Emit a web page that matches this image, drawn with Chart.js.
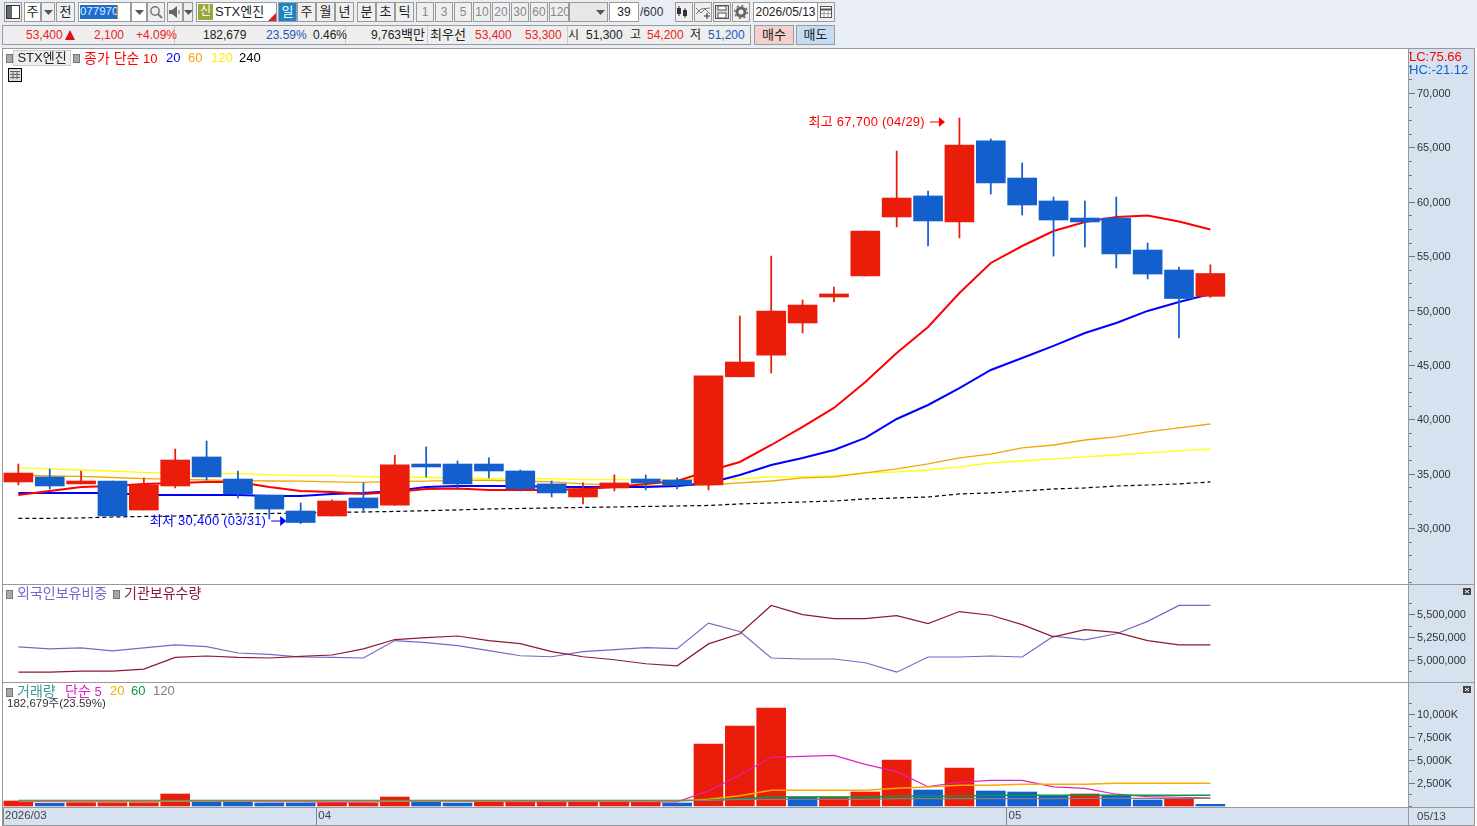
<!DOCTYPE html>
<html lang="ko">
<head>
<meta charset="utf-8">
<title>STX엔진 일봉</title>
<script src="https://cdn.jsdelivr.net/npm/chart.js@4/dist/chart.umd.min.js"></script>
<style>
html, body { margin: 0; padding: 0; width: 1477px; height: 826px; overflow: hidden; background: #fff; }
body, .t { font-family: "Liberation Sans", "Noto Sans CJK KR", sans-serif; }
#stage { position: relative; width: 1477px; height: 826px; }
#topbar { position: absolute; left: 0; top: 0; width: 1477px; height: 48px; background: #e9eef6; }
.t { position: absolute; white-space: nowrap; font-size: 12px; color: #222; z-index: 5; }
.t span { font-size: 14px; }
.b { position: absolute; box-sizing: border-box; border: 1px solid #9a9a9a; background: #efefef; text-align: center; font-size: 13px; color: #222; white-space: nowrap; }
.l { position: absolute; background: #999; z-index: 4; }
.s { position: absolute; background: #d6e2f0; }
.dot { position: absolute; width: 5px; height: 7px; background: #a8a8a8; border: 1px solid #777; z-index: 5; }
canvas { position: absolute; left: 3px; z-index: 2; }
</style>
</head>
<body>
<div id="stage">
	<div id="topbar"></div>
	<div class="s" style="left:1409px;top:49px;width:65px;height:758px"></div>
	<div class="s" style="left:3px;top:808px;width:1471px;height:17px"></div>
	<canvas id="price" width="1471" height="536" style="top:49px"></canvas>
	<canvas id="holding" width="1471" height="98" style="top:585px"></canvas>
	<canvas id="volume" width="1471" height="143" style="top:683px"></canvas>
</div>
<script>
// trading days shown on the daily chart
const days = ['03/18','03/19','03/20','03/23','03/24','03/25','03/26','03/27','03/30','03/31',
	'04/01','04/02','04/03','04/06','04/07','04/08','04/09','04/10','04/13','04/14',
	'04/15','04/16','04/17','04/20','04/21','04/22','04/23','04/24','04/27','04/28',
	'04/29','04/30','05/04','05/06','05/07','05/08','05/11','05/12','05/13'];

const opens = [34230,34690,34050,34320,31650,33860,36530,34500,33030,31560,
	31100,32760,32100,35880,35880,35880,35240,34050,32850,33680,
	34500,34410,33950,43900,45900,48850,51240,53170,58600,60530,
	58140,65590,62180,60070,58500,58500,55560,53720,51300];
const highs = [35880,35420,35240,34320,34600,37260,38000,35240,33030,32300,
	32580,34140,36700,37450,36160,36440,35330,34320,34140,34880,
	34880,34600,43900,49500,55000,50960,52160,57310,64660,60990,
	67700,65770,63560,60430,60070,60430,56200,54000,54200];
const lows = [33950,33590,34050,31100,31650,33680,34410,32760,30830,30400,
	31100,31470,32100,34690,33590,34600,33400,32850,32210,33400,
	33500,33590,33500,43900,44250,47930,50780,53170,57680,55930,
	56670,60710,58780,55000,55840,53910,52900,47470,51200];
const closes = [35050,33860,34320,31100,33950,36250,34690,33130,31740,30500,
	32480,31840,35800,35610,34050,35240,33590,33220,33590,34140,
	34140,33950,43980,45260,49950,50500,51520,57310,60340,58230,
	65220,61720,59700,58320,58140,55190,53350,51100,53400];

const ma10 = [33040,33400,33770,33860,34050,34140,34230,34230,33770,33400,
	33310,33130,33310,33590,33630,33500,33500,33500,33590,33770,
	34050,34320,35240,36070,37630,39290,41040,43430,46090,48480,
	51610,54370,55930,57310,58140,58600,58740,58190,57450];
const ma20 = [33220,33220,33220,33220,33040,33040,33040,33040,32940,32940,
	33130,33220,33400,33770,33860,33860,33860,33770,33770,33770,
	33770,33860,34140,34870,35790,36440,37170,38280,40020,41310,
	42870,44530,45630,46740,47930,48850,49960,50780,51520];
const ma60 = [34870,34780,34740,34640,34530,34460,34410,34350,34320,34300,
	34230,34200,34280,34300,34370,34390,34320,34230,34050,33950,
	33860,33910,33950,34140,34320,34600,34690,35060,35430,35890,
	36440,36800,37360,37630,38090,38370,38830,39200,39560];
const ma120 = [35520,35430,35330,35240,35090,35090,35000,35000,34900,34810,
	34810,34720,34690,34640,34600,34530,34530,34530,34440,34440,
	34440,34410,34510,34510,34690,34690,34780,35060,35150,35330,
	35610,35980,36160,36350,36530,36710,36900,37080,37270];
const ma240 = [30890,30890,30920,31010,31060,31100,31200,31290,31330,31380,
	31430,31470,31520,31590,31660,31750,31790,31840,31890,31930,
	31980,32020,32070,32210,32300,32390,32480,32670,32760,32850,
	33130,33220,33400,33590,33680,33860,33950,34050,34230];

const foreignHolding = [5141000,5119000,5130000,5097000,5130000,5163000,5144000,5074000,5059000,5030000,
	5026000,5019000,5211000,5189000,5156000,5100000,5044000,5033000,5089000,5111000,
	5133000,5122000,5403000,5311000,5019000,5008000,5008000,4967000,4863000,5030000,
	5030000,5041000,5030000,5259000,5219000,5286000,5422000,5597000,5597000];
const institutionHolding = [4863000,4863000,4874000,4874000,4897000,5026000,5041000,5026000,5019000,5037000,
	5052000,5119000,5222000,5244000,5261000,5211000,5178000,5089000,5033000,5000000,
	4956000,4933000,5174000,5286000,5597000,5497000,5452000,5452000,5486000,5397000,
	5530000,5489000,5386000,5252000,5330000,5300000,5211000,5163000,5163000];

// volume in thousands of shares, up = compared with the previous session
const volumes = [543,293,359,359,359,1304,543,435,326,326,
	359,326,978,543,326,435,543,543,435,435,
	435,326,6739,8696,10652,978,978,1522,5000,1739,
	4130,1630,1522,1163,1304,1163,652,761,183];
const volumeUp = [1,0,1,1,1,1,0,0,0,0,
	1,1,1,0,0,1,1,1,1,1,
	1,0,1,1,1,0,1,1,1,0,
	1,0,0,0,1,0,0,1,0];
const volMa5 = [470,470,470,490,490,540,540,540,470,470,
	430,430,500,520,540,500,450,450,470,470,
	440,450,1630,3370,5290,5400,5510,4530,3730,2100,
	2580,2790,2790,2070,1920,1280,1010,950,850];
const volMa20 = [543,543,543,543,543,543,543,543,543,543,
	543,543,543,543,543,543,543,543,543,543,
	543,543,728,1120,1707,1707,1707,1707,1924,2065,
	2250,2250,2359,2359,2359,2467,2467,2467,2467];
const volMa60 = [600,600,600,600,600,600,600,600,600,600,
	600,600,600,600,600,600,600,600,600,600,
	600,600,620,793,978,978,978,978,1054,1054,
	1054,1163,1163,1163,1163,1163,1163,1163,1163];
const volMa120 = [600,600,600,600,600,600,600,600,600,600,
	600,600,600,600,600,600,600,600,600,600,
	600,600,600,728,728,728,728,728,793,793,
	793,793,793,793,837,837,837,837,837];

const priceTicks = [70000,65000,60000,55000,50000,45000,40000,35000,30000];
const holdingTicks = [5500000,5250000,5000000];
const volumeTicks = [10000,7500,5000,2500];

const RED = '#ea1c0a', BLUE = '#135fcd';
const FONT = '"Liberation Sans", "Noto Sans CJK KR", sans-serif';
const X_MIN = -0.49, X_MAX = 44.3;

const pts = arr => arr.map((v, i) => ({x: i, y: v}));
const ladder = (from, to, step) => {
	const out = [];
	for (let v = from; v >= to; v -= step) out.push(v);
	return out;
};
const line = (label, data, color, width, order, extra) => Object.assign({
	type: 'line', label, data: pts(data), borderColor: color, borderWidth: width,
	pointRadius: 0, tension: 0, order, fill: false
}, extra || {});
// the plot has to fill its canvas exactly, so drop the room kept for half a label
const noPadding = s => { s.paddingTop = s.paddingBottom = s.paddingLeft = s.paddingRight = 0; };

// short dashes on the right axis, longer where the tick has a label
const axisDashes = {
	id: 'axisDashes',
	afterDraw(chart) {
		const y = chart.scales.y, ctx = chart.ctx, right = chart.chartArea.right;
		ctx.save();
		ctx.fillStyle = '#777';
		y.ticks.forEach(t => {
			const py = Math.round(y.getPixelForValue(t.value));
			ctx.fillRect(right + 1, py, t.label ? 6 : 3, 1);
		});
		ctx.restore();
	}
};

// highest / lowest price captions with their arrows
const extremes = {
	id: 'extremes',
	afterDatasetsDraw(chart) {
		const x = chart.scales.x, y = chart.scales.y, ctx = chart.ctx;
		const put = (idx, price, dy, text, color) => {
			const tip = x.getPixelForValue(idx) - 14.5;
			const py = Math.round(y.getPixelForValue(price)) + dy;
			ctx.save();
			ctx.fillStyle = color;
			ctx.font = '13px ' + FONT;
			ctx.letterSpacing = '0.25px';
			ctx.textAlign = 'right';
			ctx.textBaseline = 'middle';
			ctx.fillText(text, tip - 20, py);
			ctx.fillRect(tip - 15, py - 0.5, 10, 1);
			ctx.beginPath();
			ctx.moveTo(tip, py);
			ctx.lineTo(tip - 6, py - 5);
			ctx.lineTo(tip - 6, py + 5);
			ctx.closePath();
			ctx.fill();
			ctx.restore();
		};
		const hi = highs.indexOf(Math.max(...highs));
		const lo = lows.indexOf(Math.min(...lows));
		put(hi, highs[hi], 4, `최고 ${highs[hi].toLocaleString('en-US')} (${days[hi]})`, '#f00');
		put(lo, lows[lo], -3, `최저 ${lows[lo].toLocaleString('en-US')} (${days[lo]})`, '#00f');
	}
};

function yAxis(min, max, labelled, minor, fmt) {
	return {
		type: 'linear', position: 'right', min, max, bounds: 'data', offset: false,
		grid: {display: false, drawTicks: false},
		border: {display: false},
		afterFit(s) { s.width = 66; noPadding(s); },
		afterBuildTicks(s) { s.ticks = labelled.concat(minor).sort((a, b) => b - a).map(value => ({value})); },
		ticks: {
			autoSkip: false, padding: 9, labelOffset: 1, color: '#333', font: {family: FONT, size: 11},
			callback: v => labelled.includes(v) ? fmt(v) : ''
		}
	};
}

const hiddenX = {type: 'linear', display: false, min: X_MIN, max: X_MAX, bounds: 'data', offset: false};

function makeChart(id, datasets, scales, plugins) {
	return new Chart(document.getElementById(id), {
		type: 'bar',
		data: {datasets},
		options: {
			responsive: false, animation: false, events: [],
			layout: {padding: 0},
			plugins: {legend: {display: false}, tooltip: {enabled: false}},
			scales
		},
		plugins
	});
}

const candleColors = closes.map((c, i) => c >= opens[i] ? RED : BLUE);

makeChart('price', [
	{label: '시가-종가', data: opens.map((o, i) => ({x: i, y: [o, closes[i]]})), backgroundColor: candleColors,
		grouped: false, barThickness: 29, maxBarThickness: 29, order: 0},
	{label: '고가-저가', data: lows.map((l, i) => ({x: i, y: [l, highs[i]]})), backgroundColor: candleColors,
		grouped: false, barThickness: 1.1, maxBarThickness: 1.1, order: 1},
	line('10', ma10, '#ff0000', 2, 2),
	line('20', ma20, '#0000ff', 2, 3),
	line('60', ma60, '#f0a800', 1.3, 4),
	line('120', ma120, '#ffff00', 1.3, 5),
	line('240', ma240, '#000', 1.2, 6, {borderDash: [4, 3]})
], {
	x: hiddenX,
	y: yAxis(24755, 74046, priceTicks, ladder(73750, 25000, 1250).filter(v => !priceTicks.includes(v)), v => v.toLocaleString('en-US'))
}, [axisDashes, extremes]);

makeChart('holding', [
	line('외국인보유비중', foreignHolding, '#7866c8', 1.2, 1),
	line('기관보유수량', institutionHolding, '#8a1a34', 1.2, 0)
], {
	x: hiddenX,
	y: yAxis(4744000, 5822000, holdingTicks, [5625000,5375000,5125000,4875000,4750000], v => v.toLocaleString('en-US'))
}, [axisDashes]);

// month boundaries for the date strip
const monthStarts = days.map((d, i) => i === 0 || d.slice(0, 2) !== days[i - 1].slice(0, 2) ? i : -1).filter(i => i >= 0);

makeChart('volume', [
	{label: '거래량', data: pts(volumes), backgroundColor: volumeUp.map(u => u ? RED : BLUE),
		grouped: false, barThickness: 29, maxBarThickness: 29, order: 9},
	line('5', volMa5, '#e020c0', 1.2, 3),
	line('20', volMa20, '#f5ab00', 1.4, 2),
	line('60', volMa60, '#0a9a3c', 1.4, 1),
	line('120', volMa120, '#808080', 1.2, 0)
], {
	x: {
		type: 'linear', min: X_MIN, max: X_MAX, bounds: 'data', offset: false,
		afterFit(s) { s.height = 19; noPadding(s); },
		afterBuildTicks(s) { s.ticks = monthStarts.map(i => ({value: Math.max(i - 0.5, X_MIN)})); },
		grid: {drawOnChartArea: false, drawTicks: true, tickLength: 18, color: '#888', offset: false},
		border: {display: false},
		ticks: {
			autoSkip: false, maxRotation: 0, minRotation: 0, align: 'start', labelOffset: 2, padding: -16,
			color: '#444', font: {family: FONT, size: 11.5},
			callback: (v, i) => i === 0 ? '2026/' + days[monthStarts[i]].slice(0, 2) : days[monthStarts[i]].slice(0, 2)
		}
	},
	y: yAxis(-109, 13370, volumeTicks, [11250,8750,6250,3750,1250,0], v => v.toLocaleString('en-US') + 'K')
}, [axisDashes]);

// everything around the charts is ordinary page text
const stage = document.getElementById('stage');
function add(cls, x, y, w, h, text, css) {
	const el = document.createElement('div');
	el.className = cls;
	el.style.cssText = `left:${x}px;top:${y}px;` + (w ? `width:${w}px;` : '') + (h ? `height:${h}px;line-height:${h - 2}px;` : '') + (css || '');
	if (text != null) el.innerHTML = text;
	stage.appendChild(el);
	return el;
}
const text = (x, y, str, color, size) => add('t', x, y - 8, 0, 0, str, `line-height:16px;color:${color || '#222'};font-size:${size || 12}px;`);

// pane frame
add('l', 2, 48, 1473, 1);
add('l', 2, 48, 1, 778);
add('l', 3, 584, 1472, 1);
add('l', 3, 682, 1472, 1);
add('l', 3, 807, 1472, 1);
add('l', 3, 825, 1472, 1);
add('l', 1408, 49, 1, 776);
add('l', 1474, 49, 1, 776);

// first toolbar row
const arrow = '<svg width="9" height="5" style="vertical-align:middle"><path d="M0 0H9L4.500 5Z" fill="#555"/></svg>';
const frameIcon = '<svg width="14" height="14" style="margin-top:2px"><rect x=".5" y=".5" width="13" height="13" fill="#fff" stroke="#333"/><rect x="1" y="1" width="5" height="12" fill="#667"/></svg>';
const lens = '<svg width="14" height="14" style="margin-top:2px"><circle cx="6" cy="6" r="4.200" fill="none" stroke="#777" stroke-width="1.500"/><path d="M9 9L13 13" stroke="#777" stroke-width="2"/></svg>';
const horn = '<svg width="12" height="12" style="margin-top:3px"><path d="M0 4H3L8 0V12L3 8H0Z" fill="#666"/><path d="M10 4V8" stroke="#666"/></svg>';
const candles = '<svg width="16" height="14" style="margin-top:2px"><path d="M3 1V11M9 3V13" stroke="#333"/><rect x="1" y="3" width="4" height="6" fill="#333"/><rect x="7" y="5" width="4" height="6" fill="#333"/></svg>';
const crossLines = '<svg width="16" height="14" style="margin-top:2px"><path d="M1 3L6 8L10 4L15 9M1 9L6 4L15 3" fill="none" stroke="#777"/><path d="M12 8V14M9 11H15" stroke="#333"/></svg>';
const disk = '<svg width="14" height="14" style="margin-top:2px"><rect x=".5" y=".5" width="13" height="13" fill="#ddd" stroke="#555"/><rect x="3" y="1" width="8" height="4" fill="#fff" stroke="#555"/><rect x="3" y="8" width="8" height="5" fill="#fff" stroke="#555"/></svg>';
const gear = '<svg width="14" height="14" style="margin-top:2px"><circle cx="7" cy="7" r="4" fill="none" stroke="#666" stroke-width="3"/><circle cx="7" cy="7" r="6.300" fill="none" stroke="#666" stroke-dasharray="2 2.900" stroke-width="1.500"/></svg>';
const calendar = '<svg width="12" height="12" style="margin-top:3px"><rect x=".5" y=".5" width="11" height="11" fill="#fff" stroke="#555"/><path d="M1 3.500H11" stroke="#555" stroke-width="2"/><path d="M4 5V11M8 5V11M1 7.500H11" stroke="#999"/></svg>';

const tools = [
	[4, 18, frameIcon], [24, 17, '주', 'background:#fff;'], [41, 14, arrow], [56, 19, '전'],
	[78, 53, '', 'background:#fff;'], [131, 16, arrow, 'background:#fff;'], [147, 18, lens], [167, 16, horn], [183, 10, arrow],
	[196, 81, '', 'background:#fff;'],
	[278, 19, '일', 'background:#1a84c6;color:#fff;'], [297, 19, '주'], [316, 19, '월'], [335, 19, '년'],
	[357, 19, '분'], [376, 19, '초'], [395, 19, '틱']
];
tools.forEach(t => add('b', t[0], 2, t[1], 20, t[2], t[3]));
['1', '3', '5', '10', '20', '30', '60', '120'].forEach((m, i) =>
	add('b', [416, 435, 454, 473, 492, 511, 530, 549][i], 2, i === 7 ? 20 : 18, 20, m, 'color:#888;font-size:12px;'));
add('b', 569, 2, 39, 20, '<span style="margin-left:24px">' + arrow + '</span>', 'background:#e7e7e7;');
add('b', 609, 2, 30, 20, '39', 'background:#fff;font-size:12px;');
text(640, 12, '/600', '#333');
[candles, crossLines, disk, gear].forEach((ic, i) => add('b', 675 + i * 19, 2, 18, 20, ic));
add('b', 753, 2, 65, 20, '2026/05/13', 'background:#fff;font-size:12px;');
add('b', 817, 2, 18, 20, calendar);

add('t', 80, 5, 37, 14, '077970', 'background:#1c6fd0;color:#dfe9ff;text-align:center;font-size:11.5px;');
add('t', 117, 5, 1, 14, null, 'background:#f08a00;');
add('t', 198, 4, 15, 16, '신', 'background:#98a63c;color:#fff;text-align:center;font-size:12px;');
text(215, 12, 'STX엔진', '#222', 13);
add('t', 268, 13, 0, 0, null, 'border-style:solid;border-width:0 0 8px 8px;border-color:transparent transparent #d2202a transparent;');

// quote row
add('b', 2, 25, 749, 20, '', 'background:#eee;');
[174, 345, 427, 567].forEach(x => add('t', x, 26, 1, 18, null, 'background:#ccc;'));
[
	['53,400', 26, '#ee2222'], ['2,100', 94, '#ee2222'], ['+4.09%', 136, '#ee2222'],
	['182,679', 203, '#222'], ['23.59%', 266, '#1f55c0'], ['0.46%', 313, '#222'],
	['9,763<span style="font-size:13px">백만</span>', 371, '#222'], ['<span style="font-size:13px">최우선</span>', 430, '#222'],
	['53,400', 475, '#ee2222'], ['53,300', 525, '#ee2222'],
	['시', 568, '#222'], ['51,300', 586, '#222'], ['고', 630, '#222'], ['54,200', 647, '#ee2222'],
	['저', 690, '#222'], ['51,200', 708, '#1f55c0']
].forEach(q => text(q[1], 35, q[0], q[2]));
add('t', 65, 30, 0, 0, null, 'border-style:solid;border-width:0 5.500px 10px 5.500px;border-color:transparent transparent #e01010 transparent;');
add('b', 754, 25, 40, 20, '매수', 'background:#f3d0cb;');
add('b', 796, 25, 39, 20, '매도', 'background:#c5ddf3;');

// legends over the panes
add('dot', 6, 54);
add('b', 13, 50, 58, 16, 'STX엔진', 'z-index:5;background:#eee;border-color:#ccc;line-height:14px;');
add('dot', 73, 54);
text(84, 58, '<span>종가 단순</span> 10', '#f00', 13);
text(166, 58, '20', '#00f', 13);
text(188, 58, '60', '#f0a800', 13);
text(211, 58, '120', '#ffee00', 13);
text(239, 58, '240', '#000', 13);
add('t', 8, 68, 14, 14, '<svg width="14" height="14" style="display:block"><rect x=".5" y=".5" width="13" height="13" fill="#ddd" stroke="#000"/><path d="M2 3.500H12M2 6.500H12M2 9.500H12M5 3V11M9 3V11" stroke="#666"/></svg>');

add('dot', 6, 590);
text(17, 593, '외국인보유비중', '#7866c8', 14);
add('dot', 113, 590);
text(124, 593, '기관보유수량', '#8a1a34', 14);

add('dot', 6, 688);
text(17, 691, '거래량', '#3a9a96', 14);
text(65, 691, '<span>단순</span> 5', '#e020c0', 13);
text(110, 691, '20', '#f5ab00', 13);
text(131, 691, '60', '#0a9a3c', 13);
text(153, 691, '120', '#808080', 13);
text(7, 703, '182,679주(23.59%)', '#333', 11.5);

text(1409, 57, 'LC:75.66', '#f00', 13);
text(1409, 70, 'HC:-21.12', '#1060d0', 13);
text(1417, 816, '05/13', '#444', 11.5);

// small collapse buttons on the sub panes
[591, 689].forEach(y => add('t', 1463, y - 3, 8, 7, '<svg width="8" height="7" style="display:block"><rect width="8" height="7" fill="#444"/><path d="M2 2L6 5M6 2L2 5" stroke="#fff"/></svg>'));
</script>
</body>
</html>
